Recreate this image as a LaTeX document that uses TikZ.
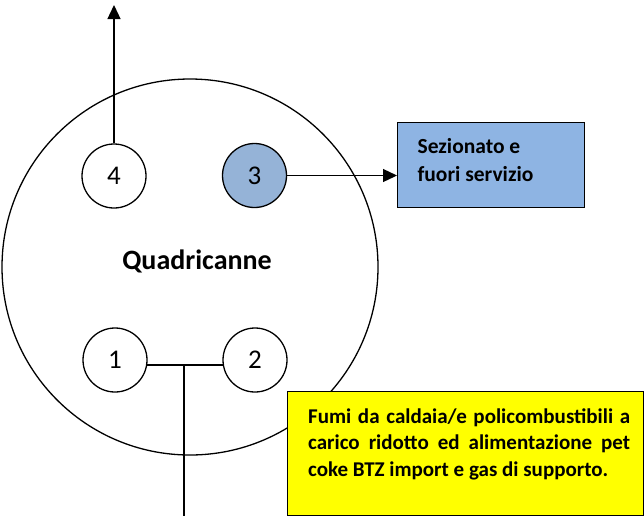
\documentclass[tikz,border=0pt]{standalone}
\usepackage{fontspec}
\setmainfont{Carlito}
\usetikzlibrary{arrows.meta}
\definecolor{boxblue}{HTML}{8EB4E3}
\definecolor{circblue}{HTML}{95B3D7}
\definecolor{boxyellow}{HTML}{FFFF00}
\begin{document}
\begin{tikzpicture}[x=1pt,y=-1pt,line width=1.3pt,
  smallc/.style={circle,draw,minimum size=64pt,inner sep=0pt,font=\fontsize{27}{27}\selectfont},
  tipped/.style={-{Triangle[length=14pt,width=13pt]}},
  labelbox/.style={draw,rectangle,inner sep=0pt,anchor=north west},
  boxtext/.style={anchor=base west,inner sep=0pt,align=left}]
\useasboundingbox (0,0) rectangle (644,515);
% big circle
\node[circle,draw,minimum size=376pt,inner sep=0pt] (big) at (190,267) {};
\node[font=\fontsize{28}{28}\selectfont\bfseries,anchor=base] (quad) at (197,269) {Quadricanne};
% small circles
\node[smallc] (c4) at (114,176) {4};
\node[smallc,fill=circblue] (c3) at (254.5,175.5) {3};
\node[smallc] (c1) at (115,360) {1};
\node[smallc] (c2) at (255,360) {2};
% outlet arrow
\coordinate (top) at (114,5);
\draw[tipped] (c4) -- (top);
% box sezionato
\node[labelbox,fill=boxblue,minimum width=187pt,minimum height=85pt] (sez) at (397,122) {};
\node[boxtext,font=\fontsize{21.5}{28}\selectfont\bfseries] (seztext) at (417,181)
  {Sezionato e\\fuori servizio};
\draw[tipped] (c3.east) -- (c3.east -| sez.west);
% junction 1-2
\coordinate (j) at (184,365);
\coordinate (jb) at (184,516);
\draw (c1.-9) -- (c2.189);
\draw (j) -- (jb);
% yellow box
\node[labelbox,fill=boxyellow,minimum width=356pt,minimum height=123.5pt] (fumi) at (287,391) {};
\node[boxtext,font=\fontsize{21}{26.5}\selectfont\bfseries] (fumitext) at (307.5,476)
  {\makebox[322pt][s]{Fumi da caldaia/e policombustibili a}\\
   \makebox[322pt][s]{carico ridotto ed alimentazione pet}\\
   coke BTZ import e gas di supporto.};
\end{tikzpicture}
\end{document}
